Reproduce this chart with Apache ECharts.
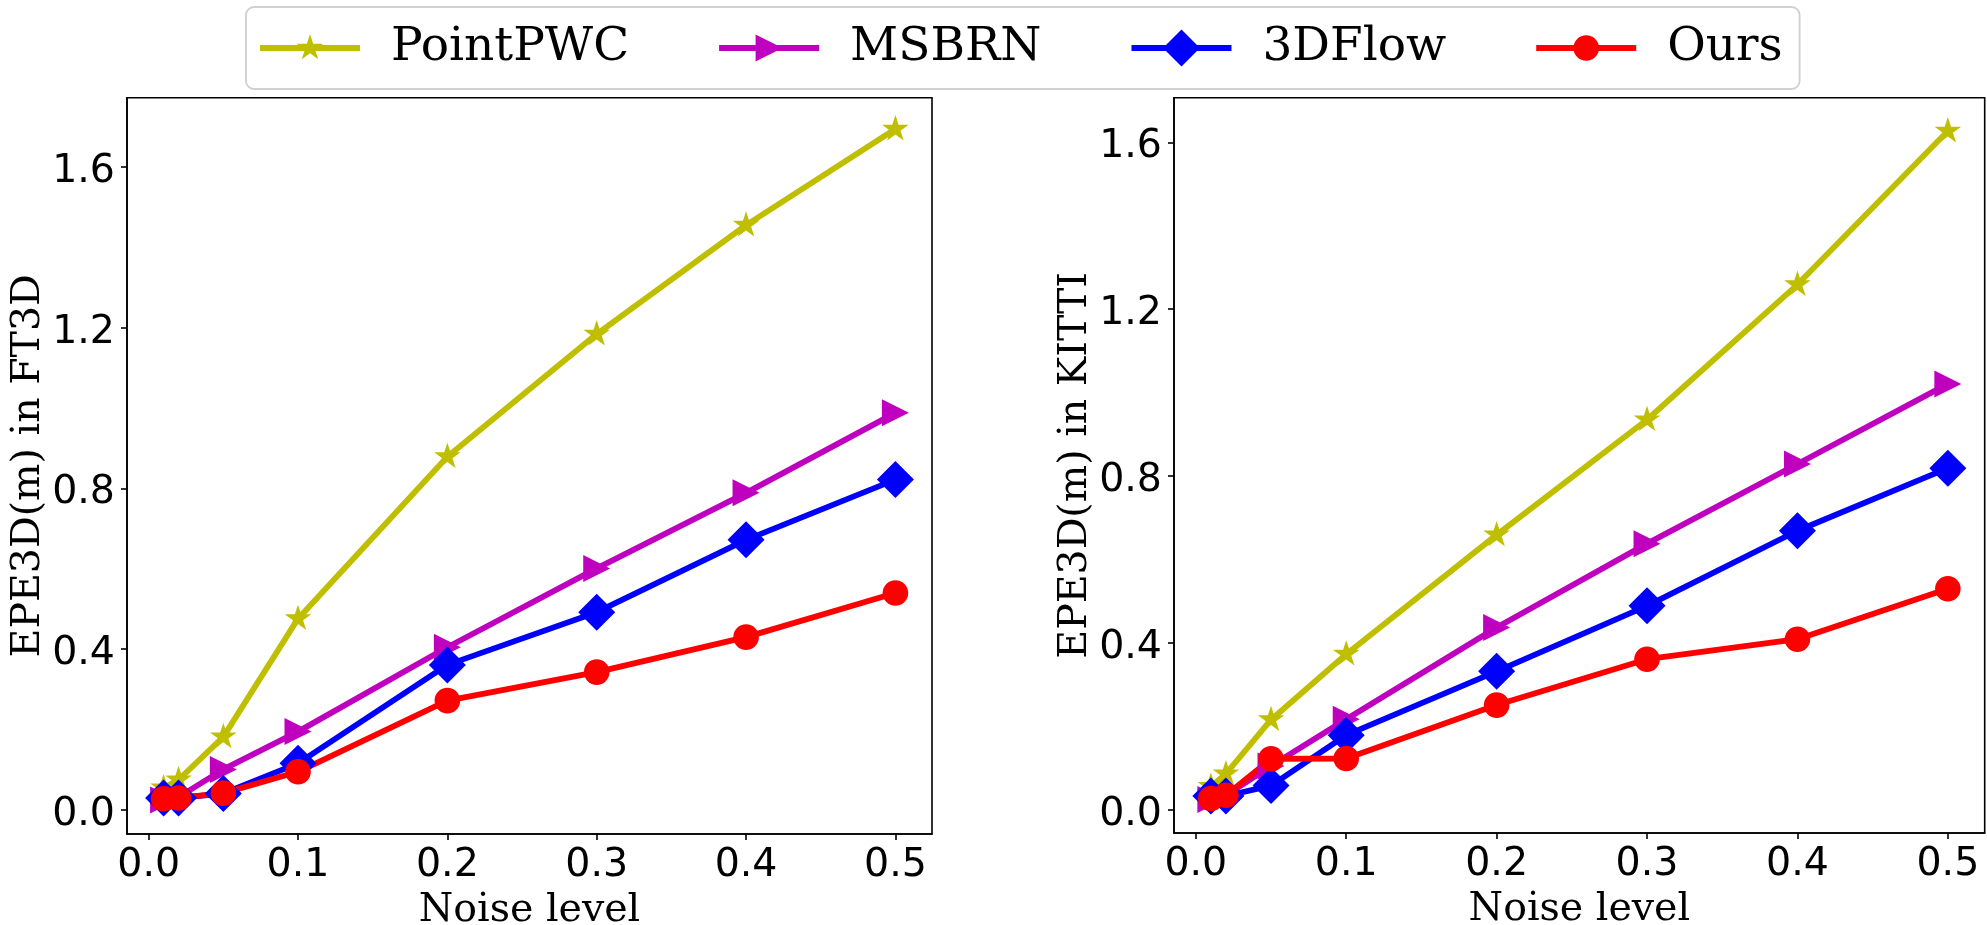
<!DOCTYPE html>
<html>
<head>
<meta charset="utf-8">
<script src="https://cdn.jsdelivr.net/npm/echarts@6/dist/echarts.min.js"></script>
<style>html,body{margin:0;padding:0;background:#fff;}#c{width:1987px;height:925px;}</style>
</head>
<body>
<div id="c"></div>
<script>
// ---- data ----
const noiseLevels = [0.01, 0.02, 0.05, 0.1, 0.2, 0.3, 0.4, 0.5];
const xTicks = [0, 0.1, 0.2, 0.3, 0.4, 0.5];
const yTicks = [0, 0.4, 0.8, 1.2, 1.6];
const methods = ['PointPWC', 'MSBRN', '3DFlow', 'Ours'];

const ft3dPointPWC = [0.055, 0.075, 0.182, 0.476, 0.879, 1.184, 1.455, 1.694];
const ft3dMSBRN    = [0.025, 0.032, 0.101, 0.195, 0.405, 0.601, 0.789, 0.988];
const ft3dFlow3D   = [0.030, 0.030, 0.041, 0.116, 0.361, 0.492, 0.672, 0.822];
const ft3dOurs     = [0.028, 0.030, 0.042, 0.095, 0.272, 0.343, 0.430, 0.540];

const kittiPointPWC = [0.056, 0.086, 0.216, 0.373, 0.659, 0.935, 1.259, 1.627];
const kittiMSBRN    = [0.025, 0.035, 0.105, 0.217, 0.437, 0.638, 0.829, 1.021];
const kittiFlow3D   = [0.033, 0.033, 0.058, 0.179, 0.332, 0.489, 0.669, 0.819];
const kittiOurs     = [0.027, 0.035, 0.122, 0.123, 0.251, 0.361, 0.409, 0.530];

// ---- marker shapes (common 40x40 box so plot and legend markers share one scale) ----
const PAD = 'M-20,-20 L-19.99,-20 Z M20,20 L19.99,20 Z ';
function starPath(R, ratio) {
  let d = '';
  for (let k = 0; k < 10; k++) {
    const r = k % 2 === 0 ? R : R * ratio;
    const a = -Math.PI / 2 + k * Math.PI / 5;
    d += (k === 0 ? 'M' : 'L') + (r * Math.cos(a)).toFixed(2) + ',' + (r * Math.sin(a)).toFixed(2) + ' ';
  }
  return d + 'Z';
}
const shapes = {
  PointPWC: 'path://' + PAD + starPath(14, 0.382),
  MSBRN: 'path://' + PAD + 'M13.5,0 L-13.5,-13.5 L-13.5,13.5 Z',
  '3DFlow': 'path://' + PAD + 'M0,-18.5 L18.5,0 L0,18.5 L-18.5,0 Z',
  Ours: 'path://' + PAD + 'M-12.8,0 A12.8,12.8 0 1,0 12.8,0 A12.8,12.8 0 1,0 -12.8,0 Z'
};
const SYM_BOX = 40;
const colors = {PointPWC: '#bfbf00', MSBRN: '#bf00bf', '3DFlow': '#0000ff', Ours: '#ff0000'};

function pairs(ys) { return noiseLevels.map((x, i) => [x, ys[i]]); }

function makeSeries(name, ys, idx) {
  return {
    type: 'line', name: name, xAxisIndex: idx, yAxisIndex: idx,
    data: pairs(ys), symbol: shapes[name], symbolSize: SYM_BOX,
    symbolKeepAspect: true, showAllSymbol: true,
    lineStyle: {color: colors[name], width: 5.8},
    itemStyle: {color: colors[name], borderWidth: 0},
    emphasis: {disabled: true}, animation: false
  };
}

const tickFmt = v => Number(v).toFixed(1);
const AX = {color: '#000', width: 1.6};

function xAxis(idx) {
  return {
    type: 'value', gridIndex: idx, min: -0.0145, max: 0.5245,
    name: 'Noise level', nameLocation: 'middle', nameGap: 55,
    nameTextStyle: {fontFamily: 'DejaVu Serif', fontSize: 39.5, color: '#000'},
    axisLine: {show: true, onZero: false, lineStyle: AX},
    axisTick: {show: true, length: 6, customValues: xTicks, lineStyle: AX},
    axisLabel: {customValues: xTicks, formatter: tickFmt, fontFamily: 'DejaVu Sans', fontSize: 39.5, color: '#000', margin: 11.5},
    splitLine: {show: false}
  };
}
function yAxis(idx, name, min, max) {
  return {
    type: 'value', gridIndex: idx, min: min, max: max,
    name: name, nameLocation: 'middle', nameGap: 70.5, nameRotate: 90,
    nameTextStyle: {fontFamily: 'DejaVu Serif', fontSize: 39.5, color: '#000'},
    axisLine: {show: true, onZero: false, lineStyle: AX},
    axisTick: {show: true, length: 6, customValues: yTicks, lineStyle: AX},
    axisLabel: {customValues: yTicks, formatter: tickFmt, fontFamily: 'DejaVu Sans', fontSize: 39.5, color: '#000', margin: 12,
      verticalAlign: 'top', lineHeight: 9.6},
    splitLine: {show: false}
  };
}

const chart = echarts.init(document.getElementById('c'), null, {renderer: 'canvas'});
chart.setOption({
  animation: false,
  backgroundColor: '#fff',
  legend: {
    data: methods,
    left: 246, top: 7,
    orient: 'horizontal',
    padding: [16, 17, 16, 11],
    itemWidth: 100, itemHeight: SYM_BOX / 0.8, itemGap: 87,
    lineStyle: {width: 6},
    borderColor: '#d0d0d0', borderWidth: 1.8, borderRadius: 8,
    backgroundColor: '#fff',
    textStyle: {fontFamily: 'DejaVu Serif', fontSize: 47, color: '#000', padding: [0, 0, 0, 26], lineHeight: 50},
    selectedMode: false
  },
  grid: [
    {left: 127, top: 97.7, width: 805, height: 736.3, show: true, borderColor: '#000', borderWidth: 1.6, backgroundColor: 'transparent', containLabel: false, outerBoundsMode: 'none'},
    {left: 1174, top: 97.7, width: 810.7, height: 735.3, show: true, borderColor: '#000', borderWidth: 1.6, backgroundColor: 'transparent', containLabel: false, outerBoundsMode: 'none'}
  ],
  xAxis: [xAxis(0), xAxis(1)],
  yAxis: [yAxis(0, 'EPE3D(m) in FT3D', -0.0597, 1.772), yAxis(1, 'EPE3D(m) in KITTI', -0.0556, 1.707)],
  series: [
    makeSeries('PointPWC', ft3dPointPWC, 0),
    makeSeries('MSBRN', ft3dMSBRN, 0),
    makeSeries('3DFlow', ft3dFlow3D, 0),
    makeSeries('Ours', ft3dOurs, 0),
    makeSeries('PointPWC', kittiPointPWC, 1),
    makeSeries('MSBRN', kittiMSBRN, 1),
    makeSeries('3DFlow', kittiFlow3D, 1),
    makeSeries('Ours', kittiOurs, 1)
  ]
});
</script>
</body>
</html>
